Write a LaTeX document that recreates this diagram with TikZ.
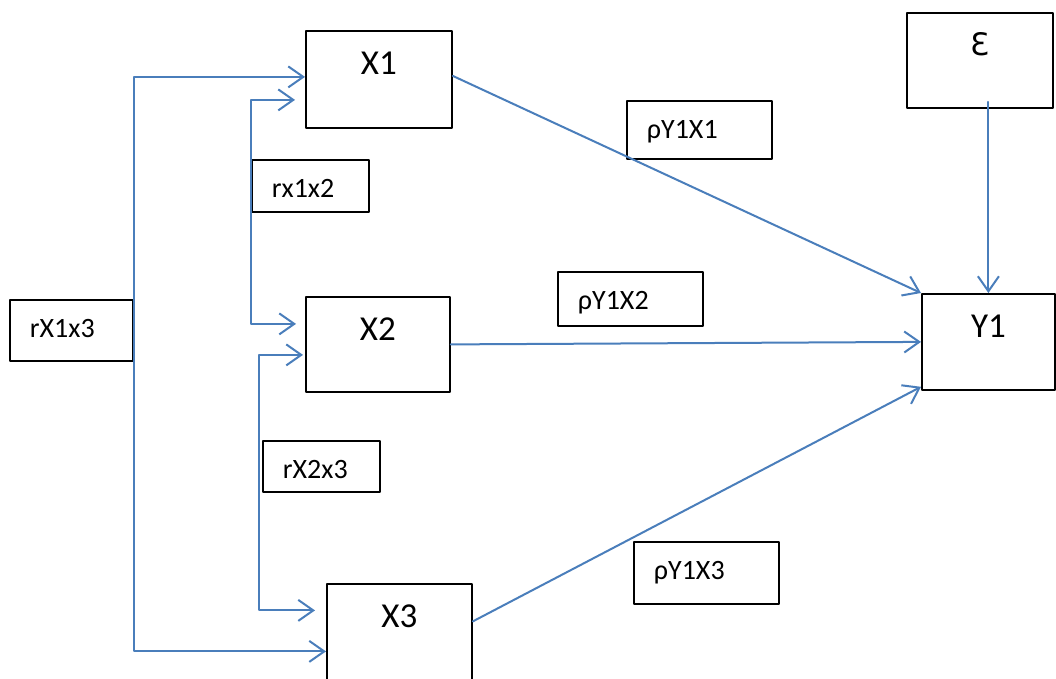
\documentclass[tikz,border=0pt]{standalone}
\usepackage{fontspec}
\setmainfont{Carlito}
\newfontfamily\epsfont{DejaVu Sans}
\usepackage{tikz}
\usetikzlibrary{arrows.meta, calc, positioning}
\usepackage{xcolor}
\definecolor{pathblue}{RGB}{74, 126, 187}

\begin{document}
\begin{tikzpicture}[x=1pt, y=-1pt, line cap=round, line join=round,
	>={Straight Barb[length=15pt,width=21pt]},
	bigbox/.style={draw, line width=1.8pt, inner sep=0pt, text height=44pt, font=\fontsize{35}{42}\selectfont, anchor=north west},
	coefbox/.style={draw, line width=1.8pt, inner ysep=0pt, inner xsep=20pt, align=left, text height=38pt, font=\fontsize{28}{34}\selectfont, anchor=north west},
	link/.style={pathblue, line width=2pt}]
	\useasboundingbox (0,0) rectangle (1056,679);

	% variables
	\node[bigbox, minimum width=146pt, minimum height=97pt, text depth=53pt] (X1) at (305,30) {X1};
	\node[bigbox, minimum width=144pt, minimum height=95pt, text depth=51pt] (X2) at (305,296) {X2};
	\node[bigbox, minimum width=145pt, minimum height=97pt, text depth=53pt] (X3) at (326,583) {X3};
	\node[bigbox, minimum width=133pt, minimum height=96pt, text depth=52pt] (Y1) at (921,293) {Y1};
	\node[bigbox, minimum width=146pt, minimum height=95pt, text height=43pt, text depth=52pt, font=\epsfont\fontsize{31}{38}\selectfont] (eps) at (906,12) {Ɛ};

	% coefficients
	\node[coefbox, text width=83pt, minimum height=61pt, text depth=23pt] (r13) at (9,299) {rX1x3};
	\node[coefbox, text width=77pt, minimum height=52pt, text depth=14pt] (r12) at (251,159) {rx1x2};
	\node[coefbox, text width=77pt, minimum height=51pt, text depth=13pt] (r23) at (262,440) {rX2x3};
	\node[coefbox, text width=105pt, minimum height=58pt, text depth=20pt] (p1) at (626,100) {ρY1X1};
	\node[coefbox, text width=105pt, minimum height=54pt, text depth=16pt] (p2) at (557,271) {ρY1X2};
	\node[coefbox, text width=105pt, minimum height=62pt, text depth=24pt] (p3) at (633,541) {ρY1X3};

	% correlations
	\draw[link,->] (r13.east) |- ([yshift=2.5pt]X1.west);
	\draw[link,->] (r13.east) |- ([yshift=-19pt]X3.west);
	\draw[link,->] (r12.west) |- ([xshift=-10pt,yshift=-20.5pt]X1.west);
	\draw[link,->] (r12.west) |- ([xshift=-9pt,yshift=20.5pt]X2.west);
	\draw[link,->] ([xshift=-3pt]r23.west) |- ([xshift=-2pt,yshift=-10.5pt]X2.west);
	\draw[link,->] ([xshift=-3pt]r23.west) |- ([xshift=-11pt,yshift=22pt]X3.west);

	% paths to Y1
	\draw[link,->] ([yshift=3.5pt]X1.east) -- (Y1.north west);
	\draw[link,->] (X2.east) -- (Y1.west);
	\draw[link,->] ([yshift=11pt]X3.east) -- ([yshift=4pt]Y1.south west);
	\draw[link,->] ([yshift=7pt]eps.south -| Y1.north) -- (Y1.north);
\end{tikzpicture}
\end{document}
